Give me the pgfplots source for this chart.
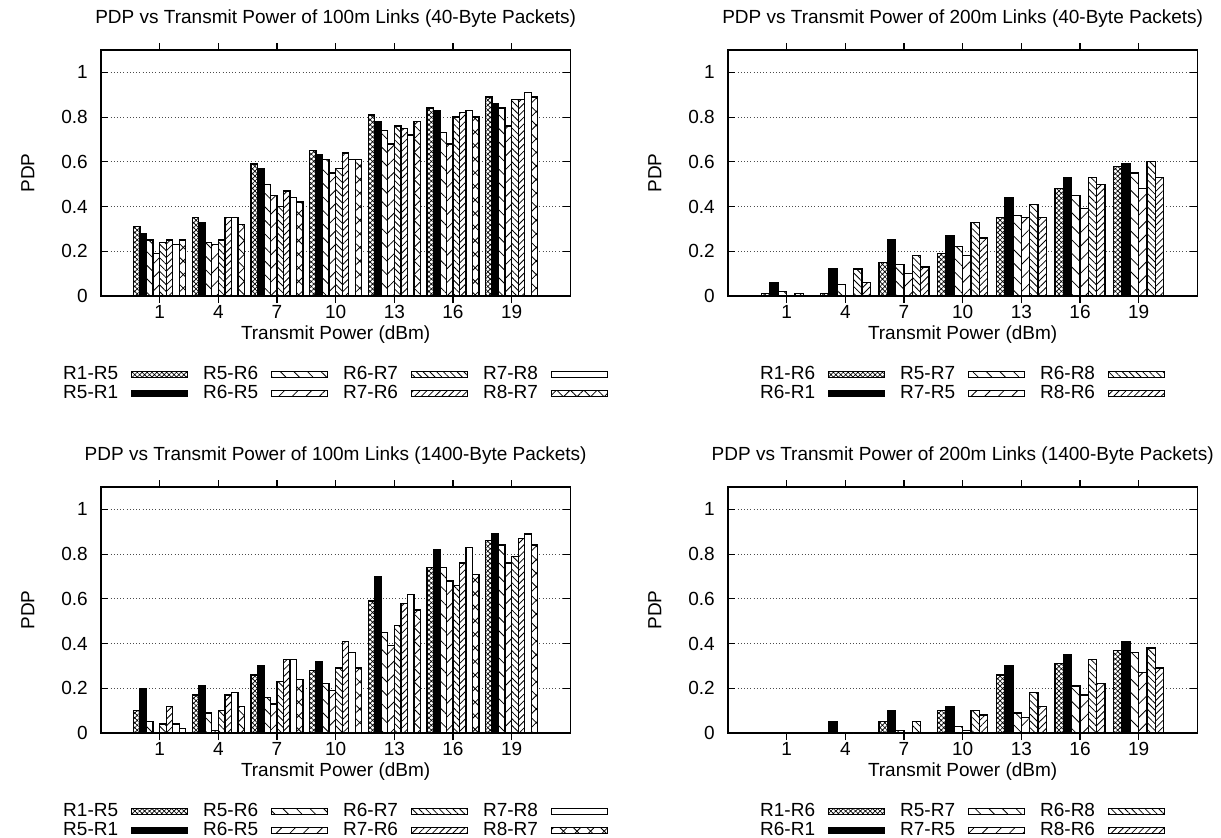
\documentclass[border=0pt]{standalone}
\usepackage{fontspec}
\setmainfont{Liberation Sans}
\usepackage{pgfplots}
\usepackage{pgfplotstable}
\pgfplotsset{compat=1.18}
\usetikzlibrary{patterns.meta}

% PDP per transmit power, one column per link
\pgfplotstableread{
x  a    b    c    d    e    f    g    h
1  0.31 0.28 0.25 0.19 0.24 0.25 0.23 0.25
4  0.35 0.33 0.24 0.23 0.25 0.35 0.35 0.32
7  0.59 0.57 0.50 0.45 0.40 0.47 0.44 0.42
10 0.65 0.63 0.61 0.55 0.57 0.64 0.61 0.61
13 0.81 0.78 0.74 0.68 0.76 0.75 0.72 0.78
16 0.84 0.83 0.73 0.68 0.80 0.82 0.83 0.80
19 0.89 0.86 0.84 0.76 0.88 0.88 0.91 0.89
}\shortsmall
\pgfplotstableread{
x  a    b    c    d    e    f
1  0.01 0.06 0.02 0.00 0.01 0.00
4  0.01 0.12 0.05 0.00 0.12 0.06
7  0.15 0.25 0.14 0.10 0.18 0.13
10 0.19 0.27 0.22 0.18 0.33 0.26
13 0.35 0.44 0.36 0.35 0.41 0.35
16 0.48 0.53 0.45 0.39 0.53 0.50
19 0.58 0.59 0.55 0.48 0.60 0.53
}\longsmall
\pgfplotstableread{
x  a    b    c    d    e    f    g    h
1  0.10 0.20 0.05 0.00 0.04 0.12 0.04 0.02
4  0.17 0.21 0.09 0.01 0.10 0.17 0.18 0.12
7  0.26 0.30 0.16 0.13 0.23 0.33 0.33 0.24
10 0.28 0.32 0.22 0.19 0.29 0.41 0.36 0.29
13 0.59 0.70 0.45 0.39 0.48 0.58 0.62 0.55
16 0.74 0.82 0.74 0.68 0.66 0.76 0.83 0.71
19 0.86 0.89 0.84 0.76 0.79 0.87 0.89 0.84
}\shortbig
\pgfplotstableread{
x  a    b    c    d    e    f
1  0.00 0.00 0.00 0.00 0.00 0.00
4  0.00 0.05 0.00 0.00 0.00 0.00
7  0.05 0.10 0.01 0.00 0.05 0.00
10 0.10 0.12 0.03 0.01 0.10 0.08
13 0.26 0.30 0.09 0.07 0.18 0.12
16 0.31 0.35 0.21 0.17 0.33 0.22
19 0.37 0.41 0.36 0.27 0.38 0.29
}\longbig

% gnuplot-like fill patterns
\tikzset{
  pXd/.style={fill=white, postaction={pattern={Hatch[angle=45,distance=2.6pt,line width=0.5pt]}}},
  pSolid/.style={fill=black},
  pNWs/.style={fill=white, postaction={pattern={Lines[angle=-45,distance=7.2pt,line width=0.6pt]}}},
  pNEs/.style={fill=white, postaction={pattern={Lines[angle=45,distance=7.2pt,line width=0.6pt]}}},
  pNWd/.style={fill=white, postaction={pattern={Lines[angle=-45,distance=3.6pt,line width=0.6pt]}}},
  pNEd/.style={fill=white, postaction={pattern={Lines[angle=45,distance=3.6pt,line width=0.6pt]}}},
  pEmpty/.style={fill=white},
  pXs/.style={fill=white, postaction={pattern={Hatch[angle=45,distance=7.2pt,line width=0.6pt]}}},
  bar/.style={draw=black, line width=1pt},
}

\pgfplotsset{
  pdp/.style={
    scale only axis, width=352pt, height=184.5pt,
    xmin=-2, xmax=22, ymin=0, ymax=1.1,
    xtick={1,4,7,10,13,16,19}, ytick={0,0.2,0.4,0.6,0.8,1},
    /pgf/number format/assume math mode=true,
    tick align=inside, major tick length=5.25pt,
    tick style={black, line width=0.8pt},
    axis line style={black, line width=0.9pt},
    ymajorgrids, grid style={dotted, black!70, line width=0.6pt},
    ybar,
    xlabel={Transmit Power (dBm)}, ylabel={PDP},
    title style={yshift=17.25pt, anchor=center},
    xlabel style={at={(axis description cs:0.5,-0.155)}, anchor=center},
    ylabel style={at={(axis description cs:-0.156,0.5)}, anchor=center},
    xticklabel style={yshift=3.5pt},
    yticklabel style={anchor=east, inner sep=0pt, xshift=-9.75pt},
    legend columns=2, transpose legend,
    legend plot pos=right, legend cell align=right,
    legend style={draw=none, fill=none, at={(0.5,-0.358)}, anchor=center,
      nodes={inner sep=0pt},
      /tikz/every odd column/.style={column sep=9.75pt},
      /tikz/every even column/.style={column sep=11.25pt},
      row sep=2pt},
    legend image code/.code={\draw[##1, line width=0.8pt] (0pt,-2.25pt) rectangle (42pt,2.25pt);},
  },
  eight/.style={pdp, bar width=0.3333},
  six/.style={pdp, bar width=0.4286},
}

\begin{document}
\fontsize{14.25pt}{17pt}\selectfont
\begin{tikzpicture}
\path[use as bounding box] (0pt,0pt) rectangle (915.75pt,-628.5pt);

\begin{axis}[eight, at={(75.75pt,-222pt)}, anchor=south west,
  title={PDP vs Transmit Power of 100m Links (40-Byte Packets)}]
  \addplot[bar, pXd, bar shift=-1.1667] table[x=x,y=a] {\shortsmall};
  \addlegendentry{R1-R5}
  \addplot[bar, pSolid, bar shift=-0.8333] table[x=x,y=b] {\shortsmall};
  \addlegendentry{R5-R1}
  \addplot[bar, pNWs, bar shift=-0.5] table[x=x,y=c] {\shortsmall};
  \addlegendentry{R5-R6}
  \addplot[bar, pNEs, bar shift=-0.1667] table[x=x,y=d] {\shortsmall};
  \addlegendentry{R6-R5}
  \addplot[bar, pNWd, bar shift=0.1667] table[x=x,y=e] {\shortsmall};
  \addlegendentry{R6-R7}
  \addplot[bar, pNEd, bar shift=0.5] table[x=x,y=f] {\shortsmall};
  \addlegendentry{R7-R6}
  \addplot[bar, pEmpty, bar shift=0.8333] table[x=x,y=g] {\shortsmall};
  \addlegendentry{R7-R8}
  \addplot[bar, pXs, bar shift=1.1667] table[x=x,y=h] {\shortsmall};
  \addlegendentry{R8-R7}
\end{axis}

\begin{axis}[six, at={(546pt,-222pt)}, anchor=south west,
  title={PDP vs Transmit Power of 200m Links (40-Byte Packets)}]
  \addplot[bar, pXd, bar shift=-1.0714] table[x=x,y=a] {\longsmall};
  \addlegendentry{R1-R6}
  \addplot[bar, pSolid, bar shift=-0.6429] table[x=x,y=b] {\longsmall};
  \addlegendentry{R6-R1}
  \addplot[bar, pNWs, bar shift=-0.2143] table[x=x,y=c] {\longsmall};
  \addlegendentry{R5-R7}
  \addplot[bar, pNEs, bar shift=0.2143] table[x=x,y=d] {\longsmall};
  \addlegendentry{R7-R5}
  \addplot[bar, pNWd, bar shift=0.6429] table[x=x,y=e] {\longsmall};
  \addlegendentry{R6-R8}
  \addplot[bar, pNEd, bar shift=1.0714] table[x=x,y=f] {\longsmall};
  \addlegendentry{R8-R6}
\end{axis}

\begin{axis}[eight, at={(75.75pt,-549.75pt)}, anchor=south west,
  title={PDP vs Transmit Power of 100m Links (1400-Byte Packets)}]
  \addplot[bar, pXd, bar shift=-1.1667] table[x=x,y=a] {\shortbig};
  \addlegendentry{R1-R5}
  \addplot[bar, pSolid, bar shift=-0.8333] table[x=x,y=b] {\shortbig};
  \addlegendentry{R5-R1}
  \addplot[bar, pNWs, bar shift=-0.5] table[x=x,y=c] {\shortbig};
  \addlegendentry{R5-R6}
  \addplot[bar, pNEs, bar shift=-0.1667] table[x=x,y=d] {\shortbig};
  \addlegendentry{R6-R5}
  \addplot[bar, pNWd, bar shift=0.1667] table[x=x,y=e] {\shortbig};
  \addlegendentry{R6-R7}
  \addplot[bar, pNEd, bar shift=0.5] table[x=x,y=f] {\shortbig};
  \addlegendentry{R7-R6}
  \addplot[bar, pEmpty, bar shift=0.8333] table[x=x,y=g] {\shortbig};
  \addlegendentry{R7-R8}
  \addplot[bar, pXs, bar shift=1.1667] table[x=x,y=h] {\shortbig};
  \addlegendentry{R8-R7}
\end{axis}

\begin{axis}[six, at={(546pt,-549.75pt)}, anchor=south west,
  title={PDP vs Transmit Power of 200m Links (1400-Byte Packets)}]
  \addplot[bar, pXd, bar shift=-1.0714] table[x=x,y=a] {\longbig};
  \addlegendentry{R1-R6}
  \addplot[bar, pSolid, bar shift=-0.6429] table[x=x,y=b] {\longbig};
  \addlegendentry{R6-R1}
  \addplot[bar, pNWs, bar shift=-0.2143] table[x=x,y=c] {\longbig};
  \addlegendentry{R5-R7}
  \addplot[bar, pNEs, bar shift=0.2143] table[x=x,y=d] {\longbig};
  \addlegendentry{R7-R5}
  \addplot[bar, pNWd, bar shift=0.6429] table[x=x,y=e] {\longbig};
  \addlegendentry{R6-R8}
  \addplot[bar, pNEd, bar shift=1.0714] table[x=x,y=f] {\longbig};
  \addlegendentry{R8-R6}
\end{axis}
\end{tikzpicture}
\end{document}
